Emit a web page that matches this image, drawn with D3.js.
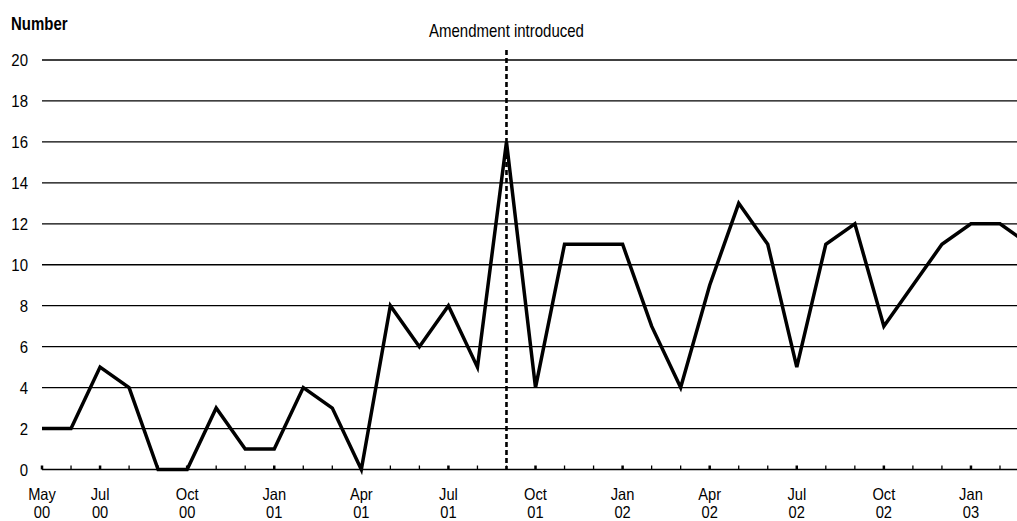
<!DOCTYPE html>
<html>
<head>
<meta charset="utf-8">
<script src="https://cdn.jsdelivr.net/npm/d3@7"></script>
<style>
  body { margin: 0; background: #fff; }
  svg { display: block; }
  text { font-family: "Liberation Sans", Arial, sans-serif; fill: #000; }
</style>
</head>
<body>
<div class="lineChart"></div>
<script>
// monthly counts, May 00 .. Mar 03
const months = ["May 00","Jun 00","Jul 00","Aug 00","Sep 00","Oct 00","Nov 00","Dec 00",
  "Jan 01","Feb 01","Mar 01","Apr 01","May 01","Jun 01","Jul 01","Aug 01","Sep 01","Oct 01","Nov 01","Dec 01",
  "Jan 02","Feb 02","Mar 02","Apr 02","May 02","Jun 02","Jul 02","Aug 02","Sep 02","Oct 02","Nov 02","Dec 02",
  "Jan 03","Feb 03","Mar 03"];
const counts = [2,2,5,4,0,0,3,1,1,4,3,0,8,6,8,5,16,4,11,11,11,7,4,9,13,11,5,11,12,7,9,11,12,12,11];

// labelled months on the x axis (month, year)
const tickLabels = [
  ["May 00","May","00"],["Jul 00","Jul","00"],["Oct 00","Oct","00"],["Jan 01","Jan","01"],
  ["Apr 01","Apr","01"],["Jul 01","Jul","01"],["Oct 01","Oct","01"],["Jan 02","Jan","02"],
  ["Apr 02","Apr","02"],["Jul 02","Jul","02"],["Oct 02","Oct","02"],["Jan 03","Jan","03"]
];
const yTicks = [0,2,4,6,8,10,12,14,16,18,20];
const amendmentMonth = "Sep 01";

class LineChart{

    constructor(){
        this.width = 1017;
        this.height = 521;
    }

    draw(){
        const svg = d3.select(".lineChart")
        .append("svg")
        .attr("width", this.width)
        .attr("height", this.height);

        // months are evenly spaced like a category axis
        const x = d3.scaleLinear()
        .domain([0, months.length - 1])
        .range([42, 42 + (months.length - 1) * 29.03]);
        const xm = m => x(months.indexOf(m));

        const y = d3.scaleLinear()
        .domain([0, 20])
        .range([469.5, 60]);

        // gridlines
        svg.append("g")
        .selectAll("line")
        .data(yTicks)
        .join("line")
        .attr("x1", 42)
        .attr("x2", this.width)
        .attr("y1", d => y(d))
        .attr("y2", d => y(d))
        .attr("stroke", "#000")
        .attr("stroke-width", 1.3);

        // y labels
        svg.append("g")
        .selectAll("text")
        .data(yTicks)
        .join("text")
        .attr("transform", d => `translate(28,${y(d)}) scale(1,1.15)`)
        .attr("dy", "0.36em")
        .attr("text-anchor", "end")
        .style("font-size", "15px")
        .text(d => d);

        // month ticks on the axis, labelled ones heavier
        const labelled = tickLabels.map(t => t[0]);
        svg.append("g")
        .selectAll("line")
        .data(months)
        .join("line")
        .attr("x1", d => xm(d))
        .attr("x2", d => xm(d))
        .attr("y1", y(0))
        .attr("y2", y(0) - 4)
        .attr("stroke", "#000")
        .attr("stroke-width", d => labelled.includes(d) ? 2.5 : 1.3);

        const xl = svg.append("g")
        .selectAll("g")
        .data(tickLabels)
        .join("g");
        xl.append("text")
        .attr("transform", d => `translate(${xm(d[0])},500) scale(1.05,1.12)`)
        .attr("text-anchor", "middle")
        .style("font-size", "14px")
        .text(d => d[1]);
        xl.append("text")
        .attr("transform", d => `translate(${xm(d[0])},517.5) scale(1.05,1.12)`)
        .attr("text-anchor", "middle")
        .style("font-size", "14px")
        .text(d => d[2]);

        // amendment marker
        const ax = xm(amendmentMonth);
        svg.append("line")
        .attr("x1", ax)
        .attr("x2", ax)
        .attr("y1", 50)
        .attr("y2", y(0))
        .attr("stroke", "#000")
        .attr("stroke-width", 2.6)
        .attr("stroke-dasharray", "5,3");

        svg.append("text")
        .attr("transform", `translate(${ax},36.5) scale(1,1.2)`)
        .attr("text-anchor", "middle")
        .style("font-size", "15px")
        .text("Amendment introduced");

        svg.append("text")
        .attr("transform", "translate(11,30) scale(1,1.18)")
        .style("font-size", "15px")
        .style("font-weight", "bold")
        .text("Number");

        // the series
        const line = d3.line()
        .x((d, i) => x(i))
        .y(d => y(d));

        svg.append("path")
        .datum(counts)
        .attr("d", line)
        .attr("fill", "none")
        .attr("stroke", "#000")
        .attr("stroke-width", 3.5)
        .attr("stroke-linejoin", "miter");
    }
}

new LineChart().draw();
</script>
</body>
</html>
